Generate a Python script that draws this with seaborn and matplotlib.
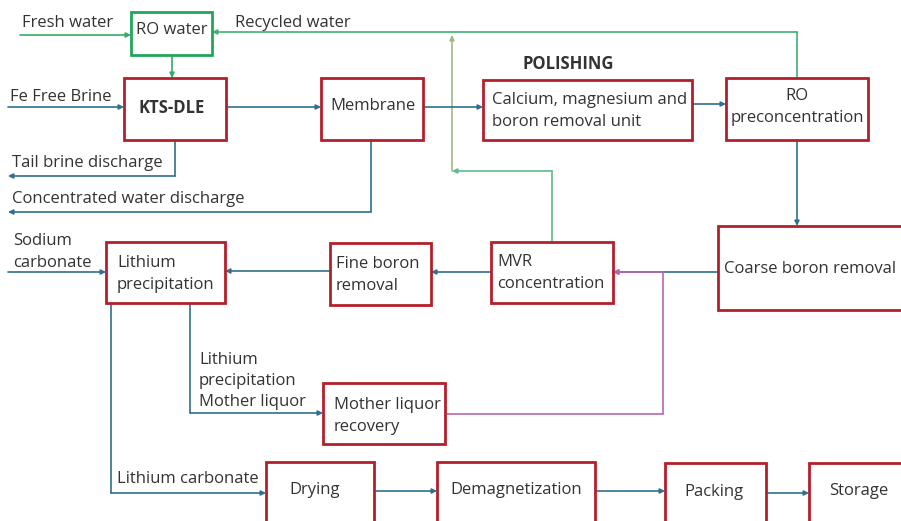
import matplotlib.pyplot as plt
import matplotlib.patches as mpatches
import seaborn as sns

# process units (pixel layout of the flowchart, y grows downward)
box_labels = ['RO water', 'KTS-DLE', 'Membrane', 'Calcium, magnesium and\nboron removal unit',
              'RO\npreconcentration', 'Coarse boron removal', 'MVR\nconcentration',
              'Fine boron\nremoval', 'Lithium\nprecipitation', 'Mother liquor\nrecovery',
              'Drying', 'Demagnetization', 'Packing', 'Storage']
box_x0 = [131, 124, 321, 483, 726, 718, 491, 330, 106, 323, 266, 437, 665, 809]
box_y0 = [12, 78, 78, 80, 78, 226, 242, 243, 242, 383, 462, 462, 463, 463]
box_x1 = [212, 226, 423, 692, 868, 905, 613, 431, 225, 445, 374, 595, 766, 905]
box_y1 = [55, 140, 140, 140, 140, 310, 303, 305, 303, 444, 530, 530, 530, 530]
box_colors = ['#23a55a'] + ['#b51f2b'] * 13
text_x = [172, 138, 330, 492, 797, 724, 497, 336, 117, 334, 289, 450, 684, 829]
text_ha = ['center', 'left', 'left', 'left', 'center', 'left', 'left', 'left', 'left', 'left',
           'left', 'left', 'left', 'left']
text_y = [30, 108, 106, 111, 107, 269, 273, 275, 274, 416, 490, 490, 492, 491]

# connectors: polyline vertices, last segment carries the arrow head
flows = [
    ([(20, 35), (131, 35)], '#2fae62'),
    ([(797, 78), (797, 32), (212, 32)], '#3db36e'),
    ([(172, 55), (172, 78)], '#2fae62'),
    ([(552, 242), (552, 171), (452, 171)], '#58bf8a'),
    ([(452, 171), (452, 35)], '#9fb88a'),
    ([(8, 107), (124, 107)], '#2f6f8f'),
    ([(226, 107), (321, 107)], '#2f6f8f'),
    ([(423, 107), (483, 107)], '#2f6f8f'),
    ([(692, 104), (726, 104)], '#2f6f8f'),
    ([(797, 140), (797, 226)], '#2f6f8f'),
    ([(175, 140), (175, 176), (8, 176)], '#2f6f8f'),
    ([(371, 140), (371, 212), (8, 212)], '#2f6f8f'),
    ([(718, 272), (613, 272)], '#2f6f8f'),
    ([(445, 414), (663, 414), (663, 272), (613, 272)], '#b866b0'),
    ([(491, 272), (431, 272)], '#2f6f8f'),
    ([(330, 271), (225, 271)], '#2f6f8f'),
    ([(8, 272), (106, 272)], '#2f6f8f'),
    ([(190, 303), (190, 413), (323, 413)], '#2f6f8f'),
    ([(111, 303), (111, 493), (266, 493)], '#2f6f8f'),
    ([(374, 491), (437, 491)], '#2f6f8f'),
    ([(595, 491), (665, 491)], '#2f6f8f'),
    ([(766, 493), (809, 493)], '#2f6f8f'),
]

# free labels on the streams
label_text = ['Fresh water', 'Recycled water', 'Fe Free Brine', 'POLISHING', 'Tail brine discharge',
              'Concentrated water discharge', 'Sodium\ncarbonate',
              'Lithium\nprecipitation\nMother liquor', 'Lithium carbonate']
label_x = [22, 235, 10, 522, 12, 12, 13, 199, 117]
label_y = [23, 23, 97, 64, 163, 199, 252, 381, 479]

sns.set_style("white")
plt.rcParams['font.family'] = ['Open Sans', 'DejaVu Sans']

fig = plt.figure(figsize=(9.01, 5.21), dpi=100)
ax = fig.add_axes([0, 0, 1, 1])
ax.set_xlim(0, 901)
ax.set_ylim(521, 0)
ax.axis('off')

for pts, c in flows:
    xs = [p[0] for p in pts]
    ys = [p[1] for p in pts]
    if len(pts) > 2:
        ax.plot(xs[:-1], ys[:-1], color=c, lw=1.2, solid_joinstyle='miter', zorder=2)
    ax.annotate('', xy=pts[-1], xytext=pts[-2],
                arrowprops=dict(arrowstyle='-|>', color=c, lw=1.2, mutation_scale=7,
                                shrinkA=0, shrinkB=0), zorder=2)

for i, lab in enumerate(box_labels):
    rect = mpatches.Rectangle((box_x0[i], box_y0[i]), box_x1[i] - box_x0[i], box_y1[i] - box_y0[i],
                              fill=True, facecolor='white', edgecolor=box_colors[i], lw=2.0, zorder=3)
    ax.add_patch(rect)
    weight = 'bold' if lab == 'KTS-DLE' else 'normal'
    ax.text(text_x[i], text_y[i], lab, ha=text_ha[i], va='center', fontsize=12,
            color='#333333', fontweight=weight, linespacing=1.45, zorder=4,
            multialignment=text_ha[i])

for t, x, y in zip(label_text, label_x, label_y):
    weight = 'bold' if t == 'POLISHING' else 'normal'
    ax.text(x, y, t, ha='left', va='center', fontsize=12, color='#333333',
            fontweight=weight, linespacing=1.45, zorder=4)

fig.savefig('out.png', dpi=100)
